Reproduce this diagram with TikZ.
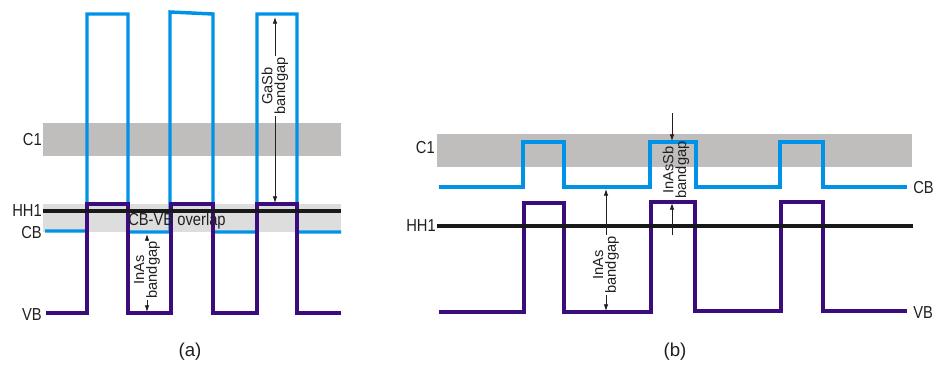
\documentclass[tikz,border=0pt]{standalone}
\usepackage{fontspec}
\setmainfont{Liberation Sans}
\newfontfamily\narrowsans[FakeStretch=0.85]{Liberation Sans}
\usetikzlibrary{arrows.meta}
\definecolor{bandBlue}{RGB}{0,146,230}
\definecolor{bandPurple}{RGB}{58,12,124}
\definecolor{bandGray}{RGB}{192,190,188}
\definecolor{overlapGray}{RGB}{221,221,221}
\definecolor{inkGray}{RGB}{35,31,32}
\begin{document}
\begin{tikzpicture}[x=0.75pt, y=-0.75pt, font=\fontsize{11}{13}\selectfont, text=inkGray]
        \tikzset{
            c1Band/.style={fill=bandGray},
            overlapBand/.style={fill=overlapGray},
            cbLine/.style={draw=bandBlue, line width=2.6pt},
            vbLine/.style={draw=bandPurple, line width=2.4pt},
            hhLine/.style={draw=black!90, line width=2.4pt},
            levelLabel/.style={inner sep=0pt, font=\narrowsans\fontsize{13}{15}\selectfont},
            captionLabel/.style={font=\fontsize{14}{16}\selectfont},
            gapArrow/.style={draw=inkGray, line width=0.6pt, -{Latex[length=5pt,width=3.4pt]}},
            gapLabel/.style={
                rotate=90,
                align=center,
                inner sep=1pt,
                fill=white,
                font=\fontsize{11}{9.5}\selectfont
            }
        }
        \useasboundingbox (0,0) rectangle (936,365);

        % (a)
        \fill[c1Band] (43,123) rectangle (341,156);
        \fill[overlapBand] (43,204) rectangle (341,232);

        \draw[cbLine] (45,231) -- (87,231) -- (87,14) -- (128,14) -- (128,232) -- (170,232)
            -- (170,12) -- (213,14) -- (213,232) -- (257,232) -- (257,14) -- (297,14)
            -- (297,232) -- (341,232);
        \draw[vbLine] (46,313) -- (87,313) -- (87,204) -- (128,204) -- (128,313) -- (171,313)
            -- (171,204) -- (213,204) -- (213,313) -- (257,313) -- (257,204) -- (297,204)
            -- (297,313) -- (341,313);
        \draw[hhLine] (43,211) -- (341,211);

        \node[levelLabel, anchor=east] (c1A) at (42,140) {C1};
        \node[levelLabel, anchor=east] (hh1A) at (42,211) {HH1};
        \node[levelLabel, anchor=east] (cbA) at (42,233) {CB};
        \node[levelLabel, anchor=east] (vbA) at (42,315) {VB};
        \node[levelLabel, anchor=west] (overlapA) at (128,221) {CB-VB overlap};

        \coordinate (gasbTop) at (275,17);
        \coordinate (gasbBot) at (275,203);
        \node[gapLabel] (gasbLbl) at (275,86) {GaSb\\bandgap};
        \draw[gapArrow] (gasbLbl) -- (gasbTop);
        \draw[gapArrow] (gasbLbl) -- (gasbBot);

        \coordinate (inasTopA) at (147,234);
        \coordinate (inasBotA) at (147,312);
        \node[gapLabel] (inasLblA) at (147,270) {InAs\\bandgap};
        \draw[gapArrow] (inasLblA) -- (inasTopA);
        \draw[gapArrow] (inasLblA) -- (inasBotA);

        \node[captionLabel] (capA) at (190,352) {(a)};

        % (b)
        \fill[c1Band] (437,134) rectangle (912,167);

        \draw[cbLine] (439,187) -- (523,187) -- (523,142) -- (564,142) -- (564,187) -- (650,187)
            -- (650,142) -- (696,142) -- (696,187) -- (780,187) -- (780,142) -- (823,142)
            -- (823,187) -- (907,187);
        \draw[vbLine] (439,312) -- (524,312) -- (524,203) -- (564,203) -- (564,312) -- (651,312)
            -- (651,202) -- (695,202) -- (695,311) -- (781,311) -- (781,202) -- (823,202)
            -- (823,311) -- (907,311);
        \draw[hhLine] (437,226) -- (913,226);

        \node[levelLabel, anchor=east] (c1B) at (435,148) {C1};
        \node[levelLabel, anchor=east] (hh1B) at (436,226) {HH1};
        \node[levelLabel, anchor=west] (cbB) at (913,188) {CB};
        \node[levelLabel, anchor=west] (vbB) at (913,313) {VB};

        \coordinate (inasTopB) at (606,189);
        \coordinate (inasBotB) at (606,311);
        \node[gapLabel] (inasLblB) at (606,265) {InAs\\bandgap};
        \draw[gapArrow] (inasLblB) -- (inasTopB);
        \draw[gapArrow] (inasLblB) -- (inasBotB);

        \coordinate (inassbTail) at (672,113);
        \coordinate (inassbTop) at (672,141);
        \coordinate (inassbFoot) at (672,235);
        \coordinate (inassbBot) at (672,203);
        \draw[gapArrow] (inassbTail) -- (inassbTop);
        \draw[gapArrow] (inassbFoot) -- (inassbBot);
        \node[gapLabel, fill=none] (inassbLbl) at (676,170) {InAsSb\\bandgap};

        \node[captionLabel] (capB) at (675,352) {(b)};
    \end{tikzpicture}
\end{document}
